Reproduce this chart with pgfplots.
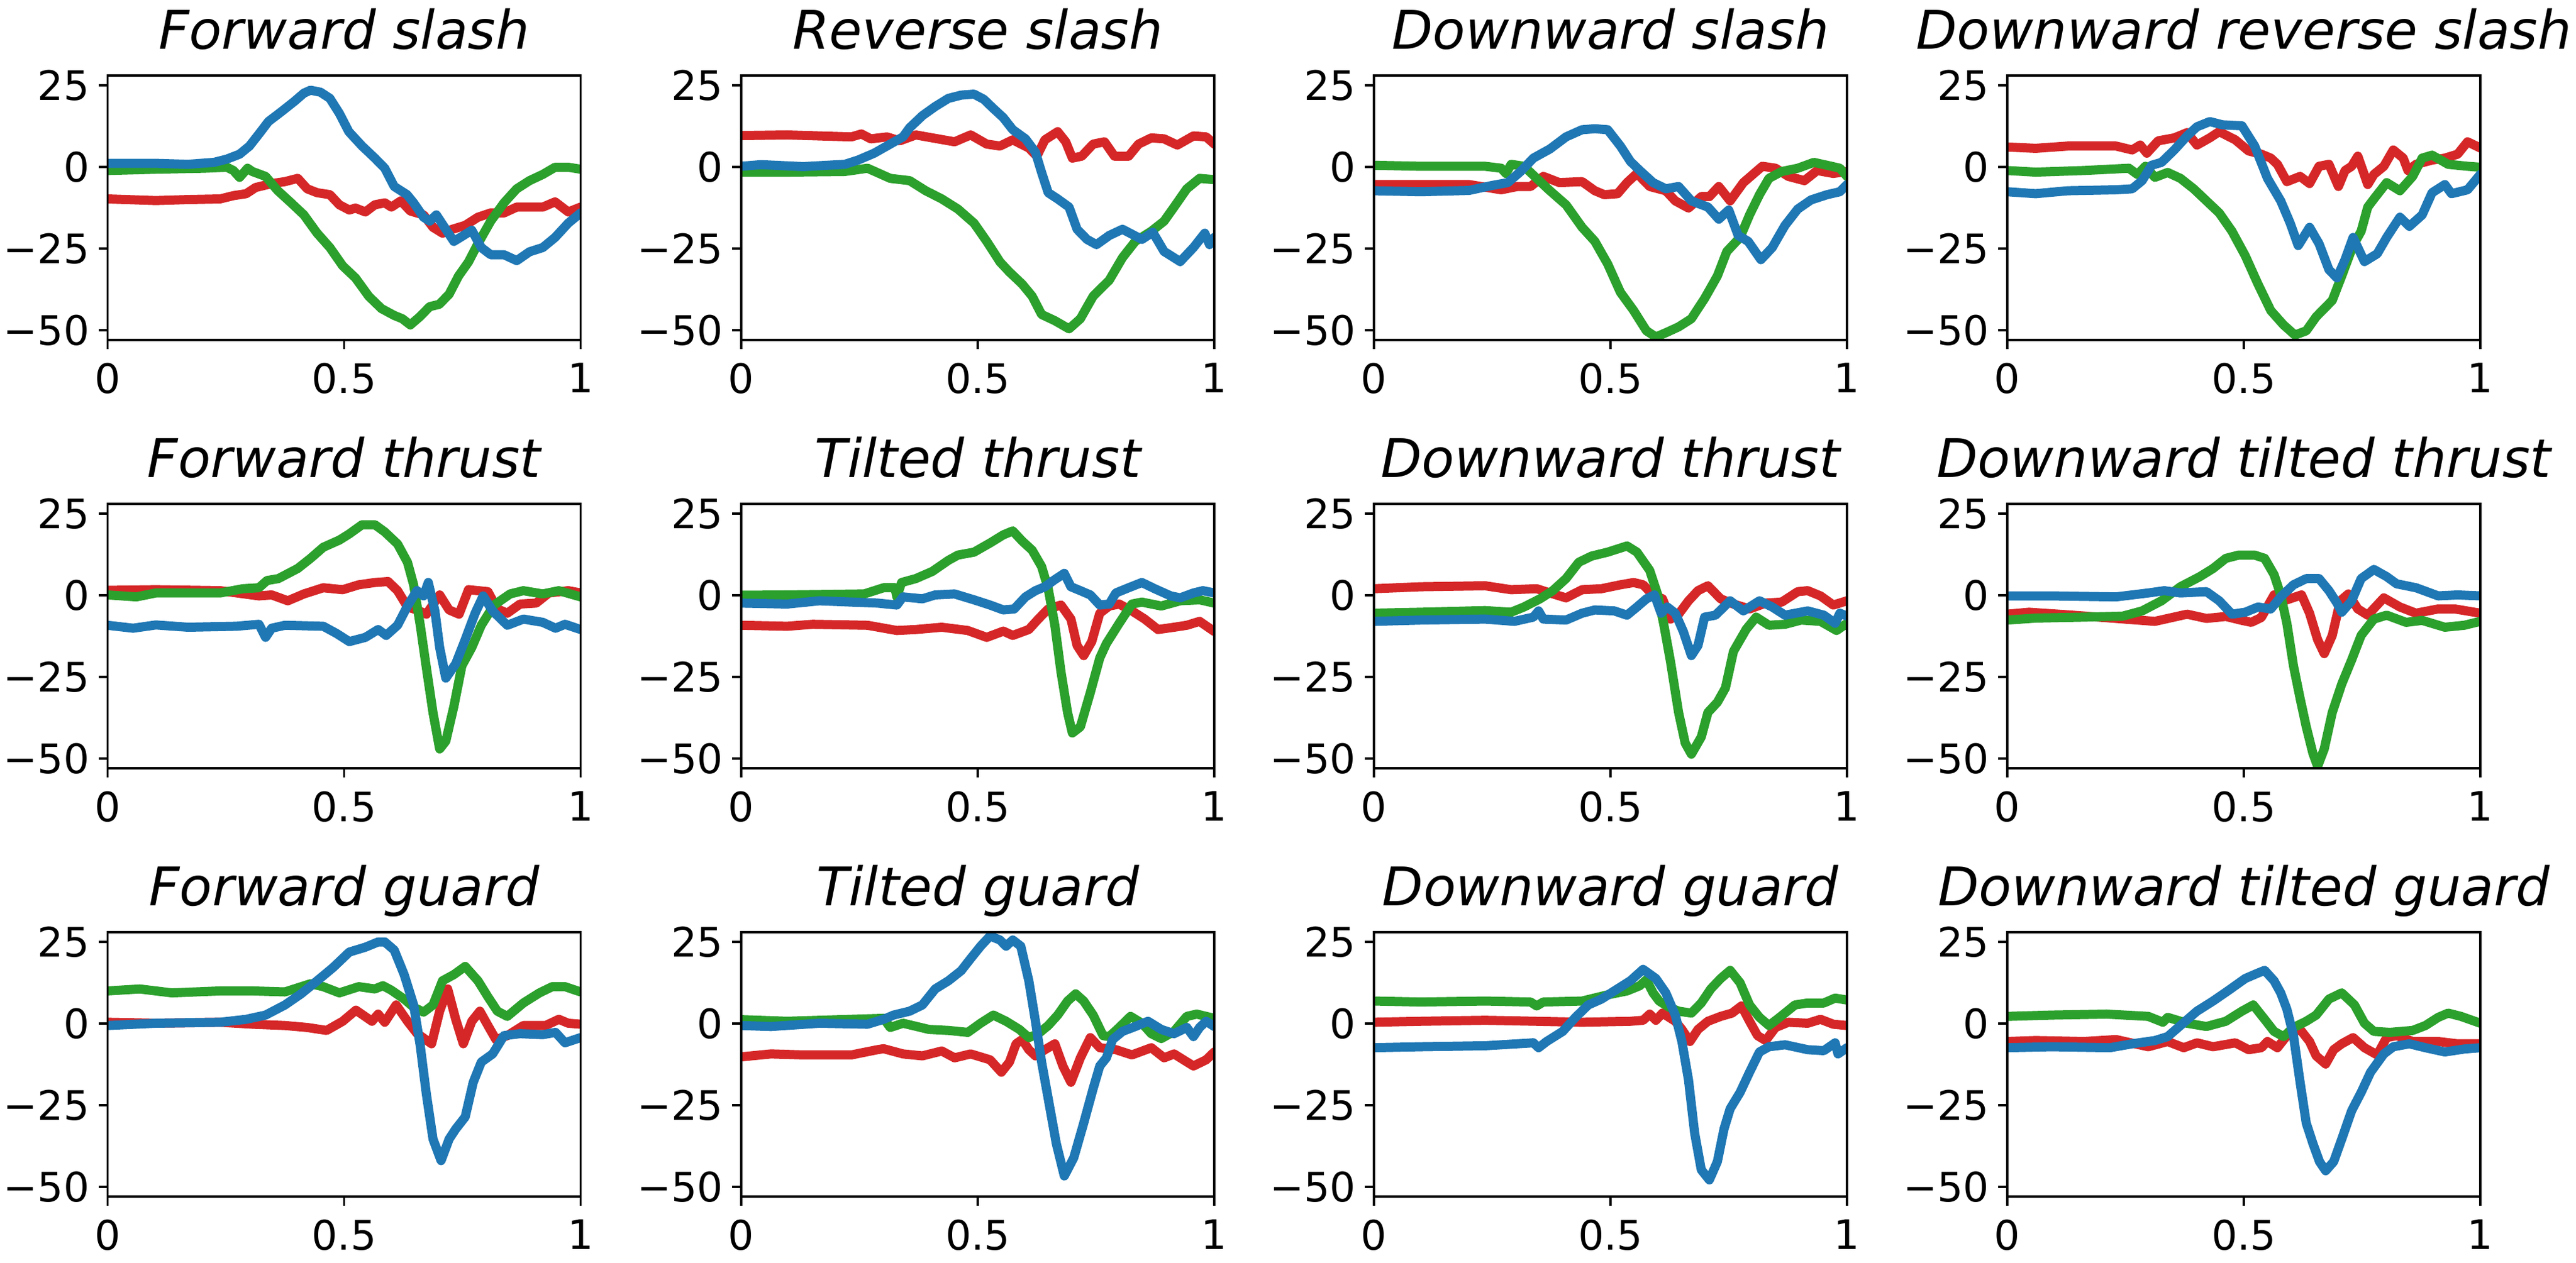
\documentclass[border=0pt]{standalone}
\usepackage{fontspec}
\setmainfont{DejaVu Sans}
\usepackage{pgfplots}
\pgfplotsset{compat=1.18}
\definecolor{tred}{HTML}{D62728}
\definecolor{tgreen}{HTML}{2CA02C}
\definecolor{tblue}{HTML}{1F77B4}
\tikzset{curve/.style={line width=3.6pt, line join=round, line cap=round}}
\pgfplotsset{panel/.style={
  scale only axis, width=186.24pt, height=104.16pt, anchor=north west,
  xmin=0, xmax=1, ymin=-53, ymax=28,
  xtick={0,0.5,1}, xticklabels={0,0.5,1},
  ytick={-50,-25,0,25}, yticklabels={−50,−25,0,25},
  xtick pos=left, ytick pos=left,
  tick align=outside, major tick length=3.5pt,
  every tick/.style={line width=0.8pt, black},
  axis line style={line width=0.8pt},
  axis on top,
  tick label style={font=\fontsize{16}{19}\selectfont},
  xticklabel style={inner sep=0pt, anchor=north, yshift=-5.5pt},
  yticklabel style={inner sep=0pt, anchor=east, xshift=-3.5pt},
  title style={at={(0.5,1)}, anchor=base, yshift=4.5pt, inner sep=0pt, font=\fontsize{21}{25}\selectfont\itshape},
}}
\newcommand{\panel}[5]{%
\begin{axis}[panel, at={#1}, title={#2}]
\addplot[tred, curve, mark=none] coordinates {#3};
\addplot[tgreen, curve, mark=none] coordinates {#4};
\addplot[tblue, curve, mark=none] coordinates {#5};
\end{axis}}
\begin{document}
\begin{tikzpicture}
\useasboundingbox (0,0) rectangle (1014.24pt,497.52pt);
% Row 1
\panel{(42.36pt,467.76pt)}{Forward slash}
{(0,-9.8) (0.102,-10.3) (0.17,-10) (0.238,-9.8) (0.266,-8.8) (0.293,-8.2) (0.313,-6.3) (0.347,-5.1) (0.375,-4.5) (0.402,-3.5) (0.422,-6.7) (0.443,-7.9) (0.47,-8.5) (0.49,-11.6) (0.511,-13.2) (0.524,-12.6) (0.545,-13.8) (0.565,-11.6) (0.586,-11) (0.6,-12.3) (0.62,-10.4) (0.64,-13.5) (0.668,-14.7) (0.688,-18.5) (0.708,-20.3) (0.729,-19.1) (0.756,-17.9) (0.783,-15.4) (0.81,-14.1) (0.838,-14.1) (0.865,-12.3) (0.92,-12.3) (0.946,-10.7) (0.974,-13.8) (1,-12.3)}
{(0,-1.1) (0.102,-0.7) (0.204,-0.4) (0.252,-0.1) (0.266,-1.1) (0.279,-3.2) (0.296,-0.4) (0.306,-1.4) (0.334,-2.9) (0.36,-7.3) (0.388,-11) (0.415,-14.7) (0.443,-20.3) (0.47,-24.7) (0.497,-30.3) (0.524,-34) (0.552,-39.6) (0.579,-43.4) (0.606,-45.5) (0.623,-46.5) (0.64,-48.4) (0.66,-45.9) (0.681,-42.8) (0.701,-42.1) (0.722,-39) (0.742,-33.4) (0.763,-29.1) (0.783,-23.5) (0.81,-16.6) (0.838,-11) (0.865,-6.7) (0.892,-4.2) (0.92,-2.3) (0.946,-0.1) (0.974,-0.1) (1,-0.7)}
{(0,1.1) (0.102,1.1) (0.17,0.8) (0.225,1.4) (0.252,2.4) (0.279,3.9) (0.30,6.4) (0.32,10.1) (0.34,13.9) (0.368,17) (0.395,20.1) (0.415,22.6) (0.429,23.5) (0.45,22.9) (0.47,21) (0.49,16.4) (0.51,10.8) (0.538,6.4) (0.565,2.7) (0.586,-0.4) (0.606,-6) (0.633,-8.5) (0.647,-11) (0.668,-15.4) (0.681,-16.6) (0.695,-14.7) (0.715,-19.1) (0.732,-22.8) (0.749,-21.3) (0.77,-19.4) (0.79,-24.7) (0.81,-26.9) (0.838,-26.9) (0.865,-28.7) (0.892,-26) (0.92,-24.7) (0.946,-21.6) (0.974,-17.2) (1,-14.1)}
\panel{(291.84pt,467.76pt)}{Reverse slash}
{(0,9.6) (0.097,9.8) (0.233,9.2) (0.254,10.1) (0.274,8.6) (0.308,9.2) (0.335,8) (0.369,9.8) (0.404,8.9) (0.451,7.7) (0.485,9.8) (0.519,7) (0.547,6.4) (0.574,8.3) (0.608,5.8) (0.625,3.3) (0.642,8.3) (0.669,10.8) (0.686,7.7) (0.7,2.7) (0.72,3.3) (0.744,7) (0.768,7.7) (0.789,3.3) (0.819,3.3) (0.84,7) (0.867,8.9) (0.894,8.6) (0.922,6.7) (0.956,9.5) (0.983,9.2) (1,7)}
{(0,-1.6) (0.097,-1.6) (0.219,-1.4) (0.267,-0.4) (0.315,-3.5) (0.356,-4.2) (0.39,-7.3) (0.424,-9.8) (0.458,-12.9) (0.492,-17.2) (0.519,-22.8) (0.547,-29.1) (0.567,-32.2) (0.594,-35.9) (0.615,-39.6) (0.635,-45.2) (0.663,-47.1) (0.693,-49.6) (0.717,-46.5) (0.744,-39.6) (0.778,-34.7) (0.806,-27.8) (0.833,-22.8) (0.867,-19.7) (0.894,-16.6) (0.915,-12.3) (0.942,-6.7) (0.969,-3.5) (1,-3.9)}
{(0,0.2) (0.042,0.7) (0.131,0.1) (0.219,0.8) (0.247,2.1) (0.281,4.2) (0.315,7) (0.342,9.2) (0.356,12) (0.383,15.7) (0.41,18.5) (0.438,21) (0.465,22) (0.492,22.3) (0.513,20.7) (0.533,17.9) (0.554,15.1) (0.574,11.4) (0.601,8.6) (0.622,4.5) (0.635,-1.7) (0.649,-7.9) (0.669,-9.8) (0.693,-12.3) (0.71,-19.1) (0.731,-22.2) (0.751,-23.8) (0.778,-21) (0.806,-19.1) (0.847,-22.2) (0.87,-20) (0.894,-25.9) (0.928,-29) (0.956,-24.7) (0.98,-20.3) (0.99,-23.8) (1,-21.6)}
\panel{(540.96pt,467.76pt)}{Downward slash}
{(0,-5.4) (0.099,-5.4) (0.201,-5.4) (0.269,-7) (0.303,-6) (0.331,-6) (0.358,-2.9) (0.392,-4.8) (0.44,-4.5) (0.467,-7.3) (0.487,-8.5) (0.515,-8.2) (0.535,-4.8) (0.556,-2) (0.583,-6) (0.617,-7.3) (0.637,-10.4) (0.665,-12.6) (0.692,-9.1) (0.709,-9.1) (0.729,-6) (0.753,-10.4) (0.781,-4.8) (0.821,0.2) (0.849,-0.4) (0.876,-2.9) (0.91,-4.2) (0.937,-1.1) (0.971,-2) (1,-1.4)}
{(0,0.5) (0.099,0.2) (0.235,0.2) (0.269,-0.4) (0.279,-2) (0.29,0.8) (0.317,0.2) (0.344,-3.5) (0.372,-7.3) (0.406,-11.6) (0.44,-18.5) (0.467,-22.8) (0.494,-29.7) (0.521,-38.4) (0.549,-44) (0.576,-50.2) (0.596,-52.1) (0.617,-50.8) (0.644,-49) (0.671,-46.5) (0.699,-40.3) (0.726,-33.4) (0.746,-25.9) (0.774,-21.6) (0.794,-14.7) (0.815,-8.5) (0.835,-3.5) (0.862,-1.4) (0.896,-0.4) (0.93,1.4) (0.958,0.5) (0.985,-0.4) (1,-2.9)}
{(0,-7.3) (0.099,-7.6) (0.201,-7.2) (0.249,-5.7) (0.283,-4.8) (0.31,-1.4) (0.337,2.7) (0.372,5.5) (0.406,9.2) (0.44,11.4) (0.467,11.7) (0.494,11.4) (0.521,6.4) (0.542,1.7) (0.562,-1.1) (0.59,-4.8) (0.617,-6.7) (0.644,-6) (0.671,-10.4) (0.706,-12.3) (0.729,-16) (0.75,-13.2) (0.77,-21) (0.791,-22.8) (0.818,-28.4) (0.842,-24.7) (0.869,-17.9) (0.896,-12.9) (0.924,-10.1) (0.958,-8.5) (0.985,-7.6) (1,-5.4)}
\panel{(790.32pt,467.76pt)}{Downward reverse slash}
{(0,6.1) (0.06,5.7) (0.128,6.4) (0.23,6.4) (0.264,5.2) (0.281,6.7) (0.295,4.2) (0.319,8) (0.353,8.9) (0.38,10.5) (0.401,6.7) (0.428,8.9) (0.448,10.8) (0.482,8.3) (0.51,4.9) (0.537,3.9) (0.557,2.7) (0.571,0.8) (0.591,-4.5) (0.619,-2.9) (0.639,-5.1) (0.659,0.2) (0.68,0.8) (0.7,-6) (0.714,-1.1) (0.728,0.2) (0.741,3.3) (0.762,-5.4) (0.775,-2.3) (0.796,0.2) (0.816,5.2) (0.837,2.7) (0.847,-1.1) (0.864,0.8) (0.898,2.1) (0.925,2.7) (0.952,3.9) (0.973,7.7) (1,5.8)}
{(0,-1.1) (0.06,-1.6) (0.162,-1.1) (0.257,-0.4) (0.275,-2.3) (0.292,0.2) (0.312,-3.2) (0.339,-1.7) (0.366,-3.5) (0.394,-6.7) (0.421,-10.4) (0.448,-14.1) (0.475,-19.7) (0.503,-27.2) (0.53,-35.9) (0.557,-44) (0.584,-48.4) (0.608,-51.5) (0.632,-50.2) (0.653,-45.9) (0.687,-40.9) (0.707,-33.4) (0.731,-24.1) (0.748,-19.7) (0.762,-12.3) (0.775,-9.8) (0.802,-4.8) (0.83,-7.3) (0.857,-2.9) (0.877,2.7) (0.898,3.6) (0.932,0.8) (0.973,0.2) (1,-0.1)}
{(0,-7.6) (0.06,-8.2) (0.128,-7.3) (0.23,-7) (0.264,-6.7) (0.285,-4.2) (0.305,0.5) (0.326,1.4) (0.353,5.2) (0.38,9.5) (0.401,12.3) (0.428,13.9) (0.455,12.9) (0.496,12.6) (0.523,6.4) (0.55,-3.5) (0.578,-10.4) (0.598,-17.2) (0.615,-24.1) (0.639,-18.5) (0.659,-23.5) (0.68,-31.5) (0.697,-34) (0.714,-28.4) (0.731,-21.6) (0.755,-29) (0.782,-26.6) (0.802,-21.6) (0.83,-15.4) (0.85,-18.2) (0.877,-14.7) (0.898,-7.9) (0.925,-5.4) (0.939,-8.2) (0.973,-7) (1,-2.3)}
% Row 2
\panel{(42.36pt,299.04pt)}{Forward thrust}
{(0,1.5) (0.102,1.7) (0.238,1.4) (0.32,-0.2) (0.347,0.1) (0.381,-1.7) (0.415,0.4) (0.456,2.3) (0.497,1.7) (0.531,3.2) (0.565,3.9) (0.593,4.2) (0.613,1.4) (0.634,-3.6) (0.654,-4.5) (0.674,-5.8) (0.702,0.1) (0.722,-4.5) (0.743,-5.8) (0.763,1.7) (0.804,1.1) (0.824,-4.2) (0.845,-5.5) (0.872,-2.7) (0.906,-2.4) (0.933,0.7) (0.974,1.4) (1,0.7)}
{(0,0.1) (0.061,-0.5) (0.102,0.7) (0.238,0.7) (0.286,2) (0.32,2.3) (0.337,4.5) (0.361,5.1) (0.402,8.2) (0.429,11.3) (0.456,14.7) (0.49,16.9) (0.511,18.8) (0.538,21.6) (0.565,21.6) (0.586,19.4) (0.613,15.7) (0.634,10.1) (0.647,3.2) (0.661,-9.2) (0.674,-22.3) (0.688,-36) (0.702,-47.1) (0.715,-44.7) (0.732,-34.1) (0.749,-21.6) (0.77,-16) (0.79,-9.2) (0.817,-3) (0.851,0.4) (0.879,1.4) (0.92,0.4) (0.954,1.4) (1,-0.5)}
{(0,-9.2) (0.054,-10.1) (0.102,-9.1) (0.17,-9.8) (0.272,-9.5) (0.32,-8.9) (0.334,-12.9) (0.347,-10.1) (0.375,-9.2) (0.456,-9.5) (0.484,-11.7) (0.511,-14.2) (0.545,-12.9) (0.572,-10.5) (0.589,-12.3) (0.613,-9.2) (0.634,-3.3) (0.654,1.4) (0.668,-0.2) (0.678,3.9) (0.692,-4.8) (0.702,-16) (0.715,-25.4) (0.736,-21) (0.756,-13.6) (0.777,-5.5) (0.794,-0.2) (0.814,-4.8) (0.845,-9.2) (0.879,-7.3) (0.92,-8.3) (0.947,-10.1) (0.967,-8.9) (1,-10.5)}
\panel{(291.84pt,299.04pt)}{Tilted thrust}
{(0,-9.2) (0.097,-9.5) (0.151,-8.9) (0.267,-9.2) (0.329,-10.8) (0.369,-10.5) (0.424,-9.8) (0.479,-10.8) (0.519,-12.9) (0.554,-11) (0.574,-12.3) (0.608,-10.5) (0.628,-7.3) (0.649,-4.2) (0.676,-3) (0.697,-7.3) (0.71,-15.4) (0.724,-18.5) (0.741,-14.2) (0.758,-5.5) (0.778,-3.3) (0.799,-2.7) (0.826,-4.8) (0.853,-7.3) (0.881,-10.5) (0.915,-9.8) (0.942,-9.2) (0.969,-8) (1,-11.1)}
{(0,0) (0.097,0.1) (0.26,0.4) (0.301,2.3) (0.325,2.3) (0.329,-0.5) (0.339,3.9) (0.369,5.1) (0.404,7.3) (0.438,10.7) (0.458,12.3) (0.492,13.2) (0.526,16) (0.554,18.5) (0.574,19.7) (0.594,16.6) (0.615,13.8) (0.635,8.8) (0.649,2) (0.663,-9.2) (0.676,-23.5) (0.69,-36) (0.7,-42.2) (0.717,-40.3) (0.738,-29.8) (0.758,-19.2) (0.772,-14.8) (0.799,-8.6) (0.826,-2.7) (0.847,-2.1) (0.888,-3.3) (0.928,-1.7) (0.969,-1.4) (1,-2.4)}
{(0,-2.4) (0.097,-2.7) (0.165,-1.7) (0.288,-2.4) (0.329,-3) (0.342,-0.5) (0.383,-1.1) (0.41,0.1) (0.451,0.4) (0.492,-1.4) (0.526,-3) (0.554,-4.5) (0.577,-4.2) (0.601,-0.5) (0.622,1.4) (0.642,2.6) (0.663,4.8) (0.683,6.7) (0.697,2.6) (0.717,1.4) (0.738,0.1) (0.758,-3) (0.778,-2.7) (0.792,0.7) (0.819,2.3) (0.847,3.9) (0.874,2) (0.908,-0.2) (0.928,-0.8) (0.956,0.7) (0.976,1.4) (1,0.7)}
\panel{(540.96pt,299.04pt)}{Downward thrust}
{(0,2) (0.099,2.6) (0.235,2.9) (0.29,1.7) (0.344,2) (0.372,0.7) (0.406,-0.8) (0.44,1.7) (0.481,2) (0.521,3.2) (0.549,3.9) (0.569,3.2) (0.59,0.1) (0.61,-1.1) (0.627,-7.3) (0.644,-5.8) (0.665,-1.7) (0.685,1.4) (0.706,2.9) (0.733,-1.1) (0.76,-2.7) (0.794,-4.2) (0.828,-2.4) (0.862,-2.1) (0.896,1.1) (0.917,1.4) (0.944,-0.2) (0.971,-3) (1,-1.7)}
{(0,-5.5) (0.099,-5.2) (0.235,-4.7) (0.29,-5.2) (0.317,-3.6) (0.351,-1.1) (0.378,1.4) (0.406,5.1) (0.433,10.1) (0.46,12) (0.494,13.2) (0.535,15.1) (0.556,13.2) (0.583,7.6) (0.6,0.1) (0.613,-9.2) (0.627,-20.4) (0.644,-35.9) (0.658,-45.3) (0.671,-48.7) (0.692,-43.4) (0.706,-35.9) (0.726,-32.8) (0.743,-28.4) (0.76,-17.2) (0.787,-10.4) (0.808,-6.7) (0.835,-9.2) (0.869,-8.9) (0.903,-7.6) (0.944,-8) (0.978,-10.8) (1,-8.6)}
{(0,-8) (0.099,-7.6) (0.235,-7.3) (0.297,-8) (0.337,-6.7) (0.348,-4.8) (0.358,-7.3) (0.406,-7.6) (0.44,-5.5) (0.467,-4.5) (0.508,-4.8) (0.535,-6.1) (0.556,-3.6) (0.576,-1.1) (0.593,0.1) (0.607,-5.5) (0.62,-3.6) (0.637,-5.5) (0.654,-11.1) (0.671,-18.5) (0.685,-15.4) (0.699,-6.7) (0.722,-6.1) (0.753,-1.7) (0.781,-4.8) (0.815,-1.7) (0.842,-3.6) (0.869,-6.1) (0.917,-4.8) (0.951,-6.1) (0.975,-8.6) (0.985,-5.5) (1,-6.4)}
\panel{(790.32pt,299.04pt)}{Downward tilted thrust}
{(0,-5.8) (0.046,-5.2) (0.128,-6) (0.23,-7.1) (0.312,-8) (0.38,-5.8) (0.421,-7.1) (0.462,-6.5) (0.496,-7.7) (0.516,-8.3) (0.537,-6.8) (0.564,0.1) (0.591,-1.4) (0.622,0.1) (0.639,-5.5) (0.656,-13.6) (0.67,-17.9) (0.687,-12.3) (0.704,-1.7) (0.721,0.4) (0.741,-4.2) (0.762,-6.1) (0.796,-0.8) (0.83,-3.6) (0.864,-5.5) (0.911,-4.2) (0.946,-4.2) (1,-5.5)}
{(0,-7.6) (0.06,-7) (0.162,-6.7) (0.244,-6.4) (0.285,-4.8) (0.326,-1.7) (0.366,2.6) (0.407,5.7) (0.435,8.2) (0.462,11.3) (0.489,12.3) (0.523,12.3) (0.544,11.3) (0.564,6.3) (0.578,0.1) (0.591,-8.6) (0.605,-21.6) (0.619,-31.6) (0.632,-40.3) (0.646,-48.4) (0.656,-52.4) (0.67,-47.1) (0.687,-35.9) (0.707,-27.2) (0.728,-19.8) (0.748,-12.3) (0.775,-7.3) (0.802,-6.1) (0.843,-8.3) (0.877,-7.7) (0.925,-9.8) (0.966,-9.2) (1,-8)}
{(0,-0.2) (0.094,-0.2) (0.23,-0.5) (0.298,0.7) (0.332,1.4) (0.366,0.7) (0.421,1.1) (0.448,-1.7) (0.475,-5.8) (0.503,-5.2) (0.53,-3.6) (0.557,-4.2) (0.578,-0.5) (0.605,3.2) (0.632,5.1) (0.659,5.1) (0.68,1.4) (0.697,-2.4) (0.707,-5.2) (0.728,-1.7) (0.748,5.1) (0.775,7.9) (0.802,5.7) (0.823,3.5) (0.864,2.3) (0.911,-0.2) (0.952,0.1) (1,-0.2)}
% Row 3
\panel{(42.36pt,130.32pt)}{Forward guard}
{(0,0.4) (0.102,0.1) (0.238,0.4) (0.307,-0.2) (0.375,-0.6) (0.422,-1.2) (0.463,-2.1) (0.497,0.7) (0.525,4.1) (0.559,0.7) (0.572,2.9) (0.586,0.4) (0.61,5.7) (0.634,0.7) (0.654,-3) (0.685,-6.2) (0.702,3.8) (0.719,10.6) (0.736,1.3) (0.752,-6.2) (0.77,0.7) (0.787,3.8) (0.804,-0.6) (0.821,-4.9) (0.845,-3.7) (0.879,-0.6) (0.926,-0.6) (0.954,1.3) (0.974,0.1) (1,-0.2)}
{(0,10) (0.068,10.6) (0.136,9.4) (0.238,10) (0.307,10) (0.375,9.7) (0.429,12.2) (0.456,11.3) (0.49,9.4) (0.531,11.3) (0.565,10.6) (0.582,11.6) (0.599,10.3) (0.627,7.5) (0.647,5) (0.668,3.5) (0.688,5.7) (0.708,13.1) (0.732,15) (0.756,17.5) (0.783,13.1) (0.804,8.2) (0.824,3.8) (0.845,2.2) (0.879,6.3) (0.913,9.4) (0.94,11.3) (0.967,11.3) (1,9.7)}
{(0,-0.6) (0.102,0.1) (0.238,0.4) (0.293,1.3) (0.334,2.6) (0.375,5.7) (0.409,9.1) (0.443,13.1) (0.477,17.2) (0.511,21.9) (0.545,23.4) (0.572,25) (0.586,25) (0.606,22.5) (0.627,15) (0.647,5.7) (0.661,-6.8) (0.674,-21.7) (0.688,-35.4) (0.705,-42) (0.722,-35.4) (0.736,-32.3) (0.756,-28.6) (0.773,-18) (0.79,-11.8) (0.814,-9.3) (0.838,-3.7) (0.872,-3.1) (0.92,-3.4) (0.947,-2.7) (0.967,-5.9) (1,-4.3)}
\panel{(291.84pt,130.32pt)}{Tilted guard}
{(0,-10.2) (0.063,-9.3) (0.131,-9.6) (0.233,-9.6) (0.288,-8) (0.301,-7.7) (0.342,-9.3) (0.383,-9.9) (0.424,-8.4) (0.451,-10.5) (0.485,-9.3) (0.526,-11.1) (0.55,-14.9) (0.567,-11.8) (0.581,-6.2) (0.594,-4.9) (0.608,-8) (0.622,-9.9) (0.642,-8) (0.663,-6.2) (0.68,-13) (0.697,-18) (0.717,-10.5) (0.738,-4.3) (0.758,-7.4) (0.792,-8) (0.826,-9.6) (0.867,-7.4) (0.894,-10.5) (0.915,-9.3) (0.956,-13) (0.983,-11.1) (1,-8.7)}
{(0,1.2) (0.097,0.7) (0.233,1.3) (0.301,1.6) (0.315,-1.2) (0.342,0.1) (0.397,-1.8) (0.438,-2.1) (0.479,-2.7) (0.506,0.1) (0.533,2.6) (0.56,0.7) (0.588,-1.8) (0.608,-4.3) (0.628,-3.1) (0.649,-0.6) (0.669,2.6) (0.69,6.9) (0.707,9.1) (0.724,6.9) (0.744,2.6) (0.765,-3.7) (0.778,-4) (0.799,-1.2) (0.823,2.2) (0.847,0.1) (0.867,-3.1) (0.888,-4.6) (0.915,-2.4) (0.942,2.2) (0.963,2.9) (1,1.6)}
{(0,-0.6) (0.063,-0.9) (0.165,0.1) (0.267,-0.2) (0.301,1.3) (0.322,2.6) (0.356,3.8) (0.383,5.7) (0.41,10.6) (0.438,13.1) (0.465,16.2) (0.485,19.9) (0.506,23.7) (0.526,26.8) (0.547,25.6) (0.56,23.7) (0.574,25.6) (0.591,23.7) (0.608,13.1) (0.622,0.7) (0.635,-11.8) (0.649,-23) (0.666,-36.7) (0.683,-46.7) (0.703,-41.1) (0.724,-30.5) (0.744,-19.9) (0.758,-13) (0.772,-10.5) (0.785,-4.9) (0.806,-2.4) (0.833,-0.9) (0.86,0.7) (0.888,-1.8) (0.915,-3.1) (0.942,-1.2) (0.956,-4) (0.969,-1.2) (0.983,0.7) (1,-0.9)}
\panel{(540.96pt,130.32pt)}{Downward guard}
{(0,0.4) (0.099,0.7) (0.235,1) (0.344,0.7) (0.44,0.4) (0.542,0.7) (0.569,1) (0.583,2.9) (0.596,1) (0.61,3.2) (0.637,0.7) (0.651,-1.8) (0.668,-5.5) (0.685,-1.8) (0.706,0.7) (0.733,2.2) (0.757,3.2) (0.777,5.4) (0.794,0.7) (0.811,-3.7) (0.828,-5.2) (0.849,-1.2) (0.876,0.4) (0.917,0.1) (0.944,1.3) (0.971,-0.2) (1,-0.6)}
{(0,6.9) (0.099,6.6) (0.235,6.9) (0.331,6.6) (0.344,5.4) (0.358,6.6) (0.44,6.9) (0.494,8.8) (0.535,10) (0.562,11.6) (0.576,13.4) (0.59,9.4) (0.603,6.9) (0.624,5) (0.644,3.8) (0.671,3.2) (0.692,6.3) (0.712,10.6) (0.733,13.8) (0.753,16.3) (0.774,12.5) (0.794,5.7) (0.815,1.9) (0.835,-0.6) (0.855,1.6) (0.89,5.7) (0.917,6.3) (0.951,6.3) (0.975,7.8) (1,7.2)}
{(0,-7.4) (0.099,-7.1) (0.235,-6.8) (0.337,-5.9) (0.348,-7.4) (0.365,-5.5) (0.399,-2.4) (0.426,1.9) (0.453,5.7) (0.481,7.5) (0.508,10) (0.542,13.1) (0.569,16.6) (0.596,13.8) (0.617,9.4) (0.637,2.6) (0.651,-5.5) (0.665,-17.3) (0.678,-33.6) (0.692,-44.8) (0.709,-47.9) (0.726,-42.3) (0.74,-32.3) (0.753,-26.1) (0.774,-21.1) (0.794,-14.9) (0.815,-8.7) (0.835,-7.1) (0.869,-6.5) (0.917,-8) (0.951,-8.3) (0.975,-5.9) (0.981,-9.3) (1,-7.4)}
\panel{(790.32pt,130.32pt)}{Downward tilted guard}
{(0,-5.5) (0.06,-5.2) (0.162,-5.5) (0.23,-4.9) (0.298,-7.1) (0.339,-5.5) (0.373,-7.4) (0.401,-5.9) (0.435,-7.1) (0.482,-5.9) (0.51,-8) (0.537,-7.4) (0.55,-5.5) (0.571,-7.4) (0.595,-3) (0.619,-1.8) (0.639,-5.5) (0.653,-9.9) (0.673,-12.4) (0.69,-8) (0.707,-6.2) (0.731,-4.3) (0.755,-7.4) (0.782,-9.6) (0.802,-4.3) (0.823,-3.7) (0.857,-5.5) (0.911,-5.5) (0.952,-6.2) (1,-6.2)}
{(0,2.2) (0.094,2.6) (0.21,2.9) (0.298,2.2) (0.329,0.4) (0.339,1.9) (0.38,0.1) (0.421,-0.9) (0.462,0.7) (0.496,3.8) (0.52,5.7) (0.544,1.3) (0.564,-2.4) (0.584,-4) (0.605,-1.2) (0.632,0.7) (0.653,2.6) (0.68,7.5) (0.707,9.4) (0.734,5.7) (0.755,0.1) (0.775,-2.4) (0.809,-2.7) (0.857,-2.1) (0.884,-0.6) (0.911,1.9) (0.932,3.2) (0.959,2.2) (1,0.1)}
{(0,-7.4) (0.094,-7.1) (0.217,-7.4) (0.264,-6.2) (0.312,-5.2) (0.339,-4) (0.366,-0.6) (0.401,3.8) (0.435,6.9) (0.469,10.3) (0.503,13.8) (0.527,15.3) (0.544,16.3) (0.564,13.1) (0.578,9.4) (0.591,4.4) (0.605,-3.7) (0.619,-18) (0.632,-30.5) (0.646,-36.7) (0.66,-42.3) (0.673,-45.1) (0.69,-42.3) (0.707,-35.4) (0.728,-26.7) (0.748,-21.1) (0.768,-14.9) (0.796,-9.3) (0.816,-7.1) (0.85,-6.2) (0.884,-7.4) (0.925,-8.7) (0.966,-7.8) (1,-7.4)}
\end{tikzpicture}
\end{document}
